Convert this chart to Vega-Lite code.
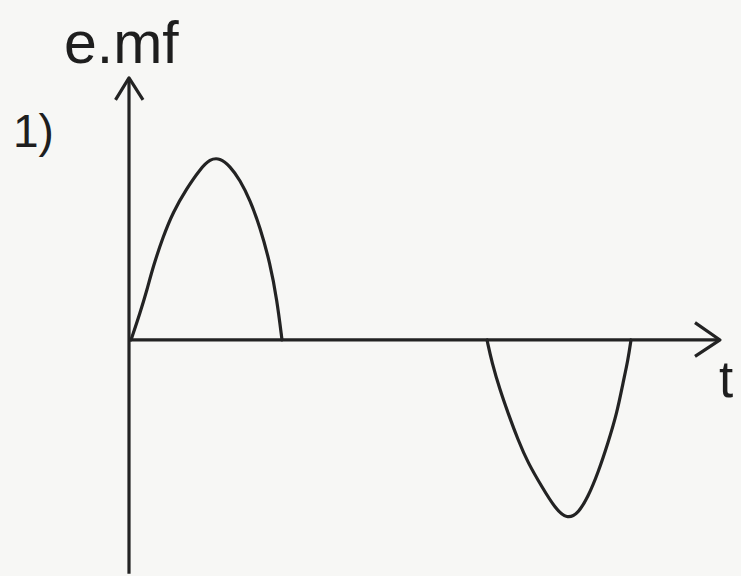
{
  "$schema": "https://vega.github.io/schema/vega-lite/v6.json",
  "width": 741,
  "height": 576,
  "autosize": {"type": "fit", "contains": "padding"},
  "padding": 0,
  "background": "#f7f7f5",
  "config": {"view": {"stroke": null}},
  "datasets": {
    "curve": [
      {"lobe": "pos", "t": 0.04, "emf": 0},
      {"lobe": "pos", "t": 0.04, "emf": 0},
      {"lobe": "pos", "t": 0.22, "emf": 0.148},
      {"lobe": "pos", "t": 0.36, "emf": 0.275},
      {"lobe": "pos", "t": 0.48, "emf": 0.401},
      {"lobe": "pos", "t": 0.68, "emf": 0.566},
      {"lobe": "pos", "t": 0.88, "emf": 0.703},
      {"lobe": "pos", "t": 1.16, "emf": 0.835},
      {"lobe": "pos", "t": 1.42, "emf": 0.938},
      {"lobe": "pos", "t": 1.62, "emf": 0.995},
      {"lobe": "pos", "t": 1.82, "emf": 1.0},
      {"lobe": "pos", "t": 2.02, "emf": 0.955},
      {"lobe": "pos", "t": 2.22, "emf": 0.879},
      {"lobe": "pos", "t": 2.42, "emf": 0.769},
      {"lobe": "pos", "t": 2.62, "emf": 0.621},
      {"lobe": "pos", "t": 2.82, "emf": 0.423},
      {"lobe": "pos", "t": 2.96, "emf": 0.22},
      {"lobe": "pos", "t": 3.06, "emf": 0},
      {"lobe": "pos", "t": 3.06, "emf": 0},
      {"lobe": "neg", "t": 7.16, "emf": 0},
      {"lobe": "neg", "t": 7.16, "emf": 0},
      {"lobe": "neg", "t": 7.26, "emf": -0.126},
      {"lobe": "neg", "t": 7.42, "emf": -0.275},
      {"lobe": "neg", "t": 7.58, "emf": -0.401},
      {"lobe": "neg", "t": 7.78, "emf": -0.549},
      {"lobe": "neg", "t": 7.98, "emf": -0.676},
      {"lobe": "neg", "t": 8.26, "emf": -0.808},
      {"lobe": "neg", "t": 8.52, "emf": -0.925},
      {"lobe": "neg", "t": 8.76, "emf": -0.985},
      {"lobe": "neg", "t": 8.98, "emf": -0.955},
      {"lobe": "neg", "t": 9.18, "emf": -0.863},
      {"lobe": "neg", "t": 9.38, "emf": -0.731},
      {"lobe": "neg", "t": 9.58, "emf": -0.566},
      {"lobe": "neg", "t": 9.76, "emf": -0.401},
      {"lobe": "neg", "t": 9.88, "emf": -0.236},
      {"lobe": "neg", "t": 9.98, "emf": -0.11},
      {"lobe": "neg", "t": 10.04, "emf": 0},
      {"lobe": "neg", "t": 10.04, "emf": 0}
    ],
    "axes": [
      {"part": "taxis", "seq": 1, "t": 0, "emf": 0},
      {"part": "taxis", "seq": 2, "t": 11.82, "emf": 0},
      {"part": "tarrow", "seq": 1, "t": 11.32, "emf": 0.095},
      {"part": "tarrow", "seq": 2, "t": 11.82, "emf": 0},
      {"part": "tarrow", "seq": 3, "t": 11.32, "emf": -0.09},
      {"part": "eaxis", "seq": 1, "t": 0, "emf": -1.285},
      {"part": "eaxis", "seq": 2, "t": 0, "emf": 1.44},
      {"part": "earrow", "seq": 1, "t": -0.27, "emf": 1.319},
      {"part": "earrow", "seq": 2, "t": 0, "emf": 1.44},
      {"part": "earrow", "seq": 3, "t": 0.28, "emf": 1.319}
    ],
    "labels": [
      {"label": "e.mf", "t": -1.3, "emf": 1.522, "size": 59},
      {"label": "1)", "t": -2.32, "emf": 1.06, "size": 46},
      {"label": "t", "t": 11.8, "emf": -0.313, "size": 51}
    ]
  },
  "layer": [
    {
      "data": {"name": "axes"},
      "mark": {"type": "line", "stroke": "#232323", "strokeWidth": 3.2, "strokeCap": "butt", "strokeJoin": "round"},
      "encoding": {
        "x": {"field": "t", "type": "quantitative", "scale": {"domain": [-2.58, 12.24], "nice": false, "zero": false}, "axis": null},
        "y": {"field": "emf", "type": "quantitative", "scale": {"domain": [-1.297, 1.868], "nice": false, "zero": false}, "axis": null},
        "detail": {"field": "part"},
        "order": {"field": "seq"}
      }
    },
    {
      "data": {"name": "curve"},
      "mark": {"type": "line", "stroke": "#232323", "strokeWidth": 3.2, "interpolate": "basis", "strokeCap": "round"},
      "encoding": {
        "x": {"field": "t", "type": "quantitative", "scale": {"domain": [-2.58, 12.24], "nice": false, "zero": false}, "axis": null},
        "y": {"field": "emf", "type": "quantitative", "scale": {"domain": [-1.297, 1.868], "nice": false, "zero": false}, "axis": null},
        "detail": {"field": "lobe"}
      }
    },
    {
      "data": {"name": "labels"},
      "mark": {"type": "text", "align": "left", "baseline": "alphabetic", "font": "Liberation Sans", "color": "#1e1e1e"},
      "encoding": {
        "x": {"field": "t", "type": "quantitative", "scale": {"domain": [-2.58, 12.24], "nice": false, "zero": false}, "axis": null},
        "y": {"field": "emf", "type": "quantitative", "scale": {"domain": [-1.297, 1.868], "nice": false, "zero": false}, "axis": null},
        "text": {"field": "label"},
        "size": {"field": "size", "type": "quantitative", "scale": null}
      }
    }
  ]
}
